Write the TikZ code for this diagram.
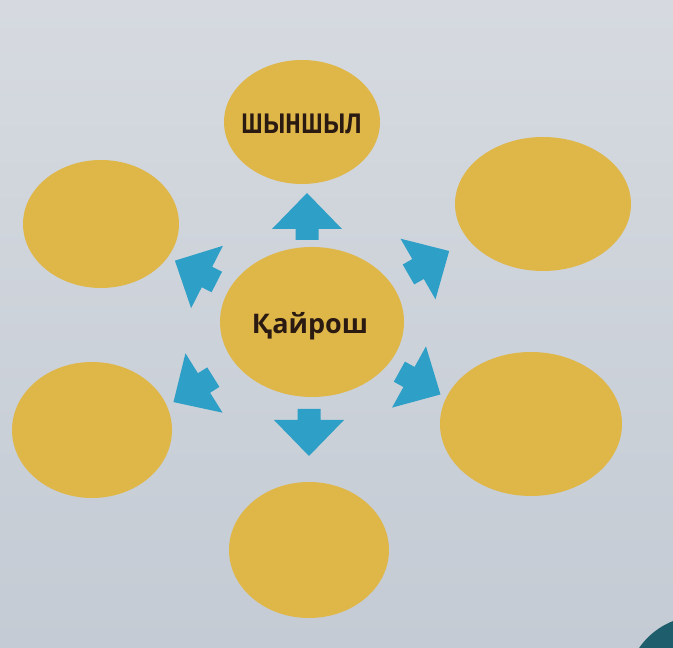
\documentclass[tikz,border=0pt]{standalone}
\usepackage{fontspec}
\newfontfamily\labelfont{Liberation Sans}
\newfontfamily\centerfont{Open Sans}
\usetikzlibrary{calc}
\definecolor{paper}{HTML}{CDD2D9}
\definecolor{papertop}{HTML}{D6DAE0}
\definecolor{paperbot}{HTML}{C4CBD4}
\definecolor{blobyellow}{HTML}{DFB749}
\definecolor{arrowblue}{HTML}{2E9FC6}
\definecolor{inkbrown}{HTML}{2A1A12}
\definecolor{pageteal}{HTML}{1E5E6C}
\tikzset{
  blob/.style={ellipse, fill=blobyellow, draw=none, inner sep=0pt},
  pics/blockarrow/.style={code={
    \fill[arrowblue] (-11,-11.5) -- (0,-11.5) -- (0,-35) -- (36,0) -- (0,35) -- (0,11.5) -- (-11,11.5) -- cycle;}},
}
\usetikzlibrary{shapes.geometric}
\begin{document}
\begin{tikzpicture}[x=1pt,y=1pt]
  \useasboundingbox (0,0) rectangle (673,648);
  \shade[top color=papertop, bottom color=paperbot] (0,0) rectangle (673,648);
  \begin{scope}
    \clip (0,0) rectangle (673,648);
    \fill[pageteal] (700,-42) circle (74);
  \end{scope}
  % ellipses
  \node[blob, minimum width=156, minimum height=124] (top) at (302,526) {};
  \node[blob, minimum width=176, minimum height=134] (ur) at (543,444) {};
  \node[blob, minimum width=156, minimum height=128] (ul) at (101,424) {};
  \node[blob, minimum width=184, minimum height=150] (c) at (312,326) {};
  \node[blob, minimum width=160, minimum height=136] (ll) at (92,218) {};
  \node[blob, minimum width=182, minimum height=144] (lr) at (531,224) {};
  \node[blob, minimum width=160, minimum height=136] (bot) at (309,98) {};
  % texts
  \node[text=inkbrown, font=\labelfont\bfseries\fontsize{37}{37}\selectfont, xscale=0.71] (toptext) at (302,524) {шыншыл};
  \node[text=inkbrown, font=\centerfont\bfseries\fontsize{27}{27}\selectfont] (ctext) at (310,322) {Қайрош};
  % arrows
  \pic[rotate=90] at (307,419) {blockarrow};
  \pic[rotate=-90] at (309,228) {blockarrow};
  \pic[rotate=153] at (207,371) {blockarrow};
  \pic[rotate=212] at (204,265) {blockarrow};
  \pic[rotate=30] at (418,379) {blockarrow};
  \pic[rotate=-29] at (409,271) {blockarrow};
\end{tikzpicture}
\end{document}
